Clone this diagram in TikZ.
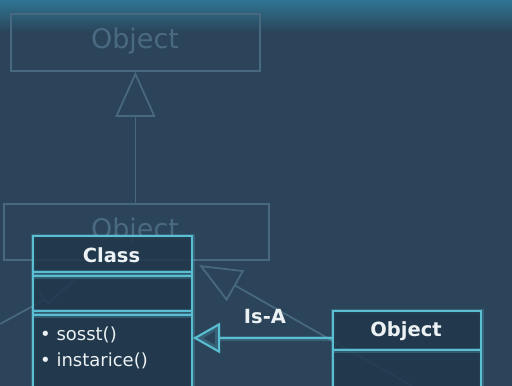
\documentclass[tikz,border=0pt]{standalone}
\usepackage{fontspec}
\setmainfont{DejaVu Sans}
\usetikzlibrary{arrows.meta}
\definecolor{bgtop}{HTML}{2F7593}
\definecolor{bg}{HTML}{2B4459}
\definecolor{cyanline}{HTML}{5BBFD3}
\definecolor{boxfill}{HTML}{21384C}
\definecolor{ghost}{HTML}{47687F}
\definecolor{ghosttext}{HTML}{4A6A82}
\definecolor{txt}{HTML}{ECF1F3}
\tikzset{
  ghostbox/.style={draw=ghost, line width=1.8pt, inner sep=0pt},
  ghostname/.style={text=ghosttext, font=\fontsize{27}{29}\selectfont, inner sep=0pt},
  ghostline/.style={draw=ghost, line width=1.8pt},
  umlbox/.style={draw=cyanline, line width=2pt, fill=boxfill, fill opacity=0.87, inner sep=0pt,
    preaction={draw=cyanline, opacity=0.25, line width=5pt}},
  divider/.style={draw=cyanline, line width=2pt,
    preaction={draw=cyanline, opacity=0.25, line width=5pt}},
  conn/.style={draw=cyanline, line width=2pt,
    preaction={draw=cyanline, opacity=0.25, line width=5pt}},
  titletext/.style={text=txt, font=\bfseries\fontsize{19.5}{21}\selectfont, inner sep=0pt},
  methodtext/.style={text=txt, font=\fontsize{18}{20}\selectfont, inner sep=0pt, anchor=west},
}
\begin{document}
\begin{tikzpicture}[x=1pt,y=-1pt]
\useasboundingbox (0,0) rectangle (512,386);
\clip (0,0) rectangle (512,386);
% background with a lighter band along the top edge
\fill[bg] (0,0) rectangle (512,386);
\shade[top color=bgtop, bottom color=bg] (0,0) rectangle (512,32);

% faded hierarchy in the background
\node[ghostbox, minimum width=249pt, minimum height=57pt, anchor=north west] (g1) at (10,13) {};
\node[ghostname] (g1name) at (135,41) {Object};
\node[ghostbox, minimum width=265pt, minimum height=56pt, anchor=north west] (g2) at (3,203) {};
\node[ghostname] (g2name) at (135,231) {Object};
\draw[ghostline, -{Triangle[open, length=45pt, width=40pt]}] (g1.south |- g2.north) -- (g1.south);
\coordinate (gtip) at (199,265);
\coordinate (gend) at (412,386);
\draw[ghostline, -{Triangle[open, length=42pt, width=35pt]}] (gend) -- (gtip);
\coordinate (lg0) at (0,324);
\coordinate (lg1) at (44,300);
\coordinate (lg2) at (38,292);
\coordinate (lg3) at (48,303);
\coordinate (lg4) at (76,279);
\draw[ghostline] (lg0) -- (lg1);
\draw[ghostline] (lg2) -- (lg3) -- (lg4);

% class box
\node[umlbox, minimum width=159pt, minimum height=170pt, anchor=north west] (cls) at (32,235) {};
\draw[divider] (cls.north west) ++(0,37) coordinate (c1l) -- (c1l -| cls.east);
\draw[divider] (cls.north west) ++(0,41) coordinate (c2l) -- (c2l -| cls.east);
\draw[divider] (cls.north west) ++(0,76) coordinate (c3l) -- (c3l -| cls.east);
\draw[divider] (cls.north west) ++(0,80) coordinate (c4l) -- (c4l -| cls.east);
\node[titletext] (clsname) at (111.5,255) {Class};
\node[methodtext] (m1) at (40,335) {• sosst()};
\node[methodtext] (m2) at (40,361) {• instarice()};

% object box
\node[umlbox, minimum width=148pt, minimum height=90pt, anchor=north west] (obj) at (332,310) {};
\draw[divider] (obj.north west) ++(0,40) coordinate (o1l) -- (o1l -| obj.east);
\node[titletext] (objname) at (406,331) {Object};

% generalisation arrow
\coordinate (ay) at (0,338);
\draw[conn, -{Triangle[open, length=27pt, width=30pt]}] (obj.west |- ay) -- (cls.east |- ay);
\node[titletext] (isa) at (265,317) {Is-A};
\end{tikzpicture}
\end{document}
